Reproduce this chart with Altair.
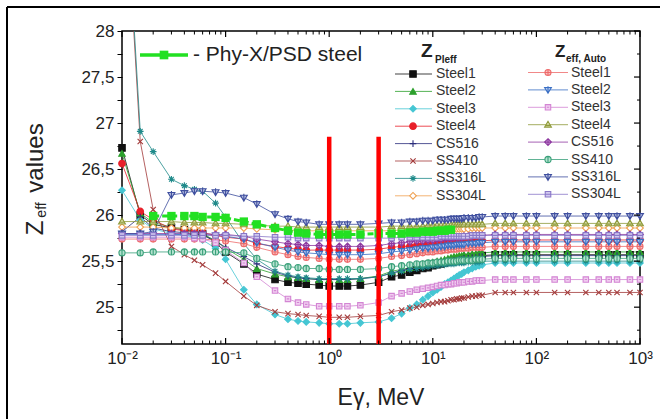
import json
import altair as alt
import pandas as pd

# ---------------- data ----------------
energy = [0.01, 0.015, 0.02, 0.03, 0.04, 0.05, 0.06, 0.08, 0.1, 0.15, 0.2, 0.3, 0.4, 0.5, 0.6, 0.8,
          1, 1.25, 1.5, 2, 3,
          4, 5, 6, 7, 8, 9, 10, 11, 12, 13, 14, 15, 16, 17, 18, 19, 20, 22, 24, 26, 28, 30,
          40, 50, 60, 80, 100, 150, 200, 300, 400, 500, 600, 800, 1000]

steel1_p = [26.73, 26.00, 25.90, 25.86, 25.84, 25.82, 25.80, 25.70, 25.60, 25.47, 25.36, 25.30, 25.27, 25.26, 25.25, 25.24, 25.23, 25.23, 25.23, 25.24, 25.27,
            25.33, 25.35, 25.38, 25.40, 25.42, 25.43, 25.45, 25.46, 25.47, 25.48, 25.49, 25.50, 25.51, 25.51, 25.52, 25.52, 25.53, 25.54, 25.55, 25.55, 25.56, 25.56,
            25.57, 25.57, 25.57, 25.57, 25.57, 25.57, 25.57, 25.57, 25.57, 25.57, 25.57, 25.57, 25.57]
steel2_p = [26.67, 26.02, 25.92, 25.87, 25.85, 25.83, 25.80, 25.72, 25.64, 25.52, 25.42, 25.36, 25.33, 25.32, 25.31, 25.30, 25.30, 25.30, 25.30, 25.31, 25.34,
            25.39, 25.41, 25.43, 25.45, 25.47, 25.48, 25.49, 25.50, 25.51, 25.52, 25.53, 25.54, 25.55, 25.55, 25.56, 25.56, 25.57, 25.57, 25.58, 25.58, 25.59, 25.59,
            25.60, 25.60, 25.60, 25.60, 25.60, 25.60, 25.60, 25.60, 25.60, 25.60, 25.60, 25.60, 25.60]
steel3_p = [26.27, 25.95, 25.85, 25.80, 25.78, 25.76, 25.73, 25.64, 25.52, 25.19, 25.03, 24.92, 24.87, 24.85, 24.84, 24.83, 24.82, 24.82, 24.82, 24.83, 24.84,
            24.88, 24.93, 24.99, 25.03, 25.08, 25.12, 25.16, 25.19, 25.22, 25.25, 25.27, 25.29, 25.31, 25.33, 25.35, 25.36, 25.38, 25.40, 25.42, 25.44, 25.45, 25.46,
            25.48, 25.48, 25.48, 25.48, 25.48, 25.48, 25.48, 25.48, 25.48, 25.48, 25.48, 25.48, 25.48]
steel4_p = [26.56, 26.04, 25.95, 25.85, 25.83, 25.82, 25.81, 25.78, 25.76, 25.74, 25.69, 25.66, 25.64, 25.63, 25.62, 25.62, 25.62, 25.62, 25.62, 25.62, 25.63,
            25.65, 25.66, 25.66, 25.67, 25.67, 25.68, 25.68, 25.68, 25.69, 25.69, 25.69, 25.70, 25.70, 25.70, 25.70, 25.71, 25.71, 25.71, 25.71, 25.71, 25.72, 25.72,
            25.73, 25.73, 25.73, 25.73, 25.73, 25.73, 25.73, 25.73, 25.73, 25.73, 25.73, 25.73, 25.73]
cs516_p = [25.82, 25.98, 25.86, 25.82, 25.81, 25.80, 25.78, 25.72, 25.65, 25.55, 25.47, 25.38, 25.34, 25.32, 25.31, 25.30, 25.30, 25.30, 25.30, 25.31, 25.33,
           25.37, 25.40, 25.42, 25.44, 25.45, 25.46, 25.47, 25.48, 25.49, 25.49, 25.50, 25.50, 25.51, 25.51, 25.52, 25.52, 25.53, 25.53, 25.54, 25.54, 25.55, 25.55,
           25.56, 25.56, 25.56, 25.56, 25.56, 25.56, 25.56, 25.56, 25.56, 25.56, 25.56, 25.56, 25.56]
ss410_p = [30.20, 26.80, 26.06, 25.66, 25.57, 25.51, 25.46, 25.37, 25.28, 25.12, 25.02, 24.95, 24.93, 24.92, 24.91, 24.90, 24.89, 24.89, 24.89, 24.90, 24.91,
           24.95, 24.97, 24.99, 25.00, 25.02, 25.03, 25.04, 25.05, 25.06, 25.06, 25.07, 25.08, 25.08, 25.09, 25.09, 25.10, 25.10, 25.11, 25.12, 25.12, 25.13, 25.13,
           25.16, 25.16, 25.16, 25.16, 25.16, 25.16, 25.16, 25.16, 25.16, 25.16, 25.16, 25.16, 25.16]
ss316l_p = [30.30, 26.91, 26.69, 26.39, 26.32, 26.28, 26.26, 26.13, 25.98, 25.69, 25.52, 25.39, 25.35, 25.33, 25.32, 25.31, 25.31, 25.31, 25.31, 25.31, 25.33,
            25.37, 25.39, 25.41, 25.42, 25.43, 25.44, 25.45, 25.45, 25.46, 25.46, 25.47, 25.47, 25.47, 25.48, 25.48, 25.48, 25.48, 25.49, 25.49, 25.49, 25.49, 25.50,
            25.50, 25.50, 25.50, 25.50, 25.50, 25.50, 25.50, 25.50, 25.50, 25.50, 25.50, 25.50, 25.50]
ss304l_p = [25.87, 25.87, 25.87, 25.86, 25.86, 25.86, 25.86, 25.86, 25.86, 25.86, 25.85, 25.84, 25.84, 25.83, 25.83, 25.83, 25.83, 25.83, 25.83, 25.83, 25.83,
            25.83, 25.84, 25.84, 25.84, 25.84, 25.84, 25.84, 25.84, 25.85, 25.85, 25.85, 25.85, 25.85, 25.85, 25.85, 25.85, 25.85, 25.85, 25.86, 25.86, 25.86, 25.86,
            25.86, 25.86, 25.86, 25.86, 25.86, 25.86, 25.86, 25.86, 25.86, 25.86, 25.86, 25.86, 25.86]

steel1_a = [25.74, 25.74, 25.74, 25.74, 25.74, 25.74, 25.74, 25.73, 25.72, 25.69, 25.65, 25.60, 25.57, 25.55, 25.54, 25.53, 25.52, 25.52, 25.52, 25.52, 25.53,
            25.55, 25.56, 25.57, 25.58, 25.59, 25.60, 25.60, 25.61, 25.61, 25.62, 25.62, 25.63, 25.63, 25.63, 25.64, 25.64, 25.64, 25.64, 25.65, 25.65, 25.65, 25.65,
            25.66, 25.66, 25.66, 25.66, 25.66, 25.66, 25.66, 25.66, 25.66, 25.66, 25.66, 25.66, 25.66]
steel2_a = [25.79, 25.79, 25.79, 25.79, 25.79, 25.79, 25.79, 25.78, 25.77, 25.74, 25.70, 25.65, 25.62, 25.60, 25.59, 25.58, 25.57, 25.57, 25.57, 25.57, 25.58,
            25.60, 25.61, 25.62, 25.63, 25.64, 25.64, 25.65, 25.65, 25.66, 25.66, 25.67, 25.67, 25.67, 25.68, 25.68, 25.68, 25.68, 25.69, 25.69, 25.69, 25.70, 25.70,
            25.71, 25.71, 25.71, 25.71, 25.71, 25.71, 25.71, 25.71, 25.71, 25.71, 25.71, 25.71, 25.71]
steel3_a = [25.76, 25.76, 25.76, 25.76, 25.76, 25.75, 25.74, 25.70, 25.62, 25.48, 25.33, 25.18, 25.09, 25.05, 25.03, 25.01, 25.01, 25.01, 25.01, 25.02, 25.05,
            25.12, 25.15, 25.17, 25.19, 25.20, 25.21, 25.22, 25.23, 25.24, 25.24, 25.25, 25.25, 25.26, 25.26, 25.27, 25.27, 25.27, 25.28, 25.28, 25.29, 25.29, 25.29,
            25.30, 25.30, 25.30, 25.30, 25.30, 25.30, 25.30, 25.30, 25.30, 25.30, 25.30, 25.30, 25.30]
steel4_a = [25.93, 25.93, 25.93, 25.93, 25.92, 25.92, 25.92, 25.91, 25.91, 25.90, 25.89, 25.88, 25.88, 25.87, 25.87, 25.87, 25.87, 25.87, 25.87, 25.87, 25.87,
            25.88, 25.88, 25.88, 25.88, 25.88, 25.89, 25.89, 25.89, 25.89, 25.89, 25.89, 25.89, 25.90, 25.90, 25.90, 25.90, 25.90, 25.90, 25.90, 25.90, 25.90, 25.90,
            25.91, 25.91, 25.91, 25.91, 25.91, 25.91, 25.91, 25.91, 25.91, 25.91, 25.91, 25.91, 25.91]
cs516_a = [25.80, 25.80, 25.80, 25.80, 25.80, 25.80, 25.80, 25.79, 25.79, 25.77, 25.74, 25.71, 25.69, 25.68, 25.67, 25.67, 25.66, 25.66, 25.66, 25.66, 25.67,
           25.69, 25.70, 25.71, 25.72, 25.72, 25.73, 25.73, 25.74, 25.74, 25.75, 25.75, 25.75, 25.76, 25.76, 25.76, 25.76, 25.77, 25.77, 25.77, 25.78, 25.78, 25.78,
           25.79, 25.79, 25.79, 25.79, 25.79, 25.79, 25.79, 25.79, 25.79, 25.79, 25.79, 25.79, 25.79]
ss410_a = [25.59, 25.59, 25.60, 25.60, 25.60, 25.60, 25.60, 25.60, 25.60, 25.59, 25.53, 25.47, 25.44, 25.43, 25.42, 25.42, 25.41, 25.41, 25.41, 25.41, 25.42,
           25.44, 25.45, 25.46, 25.47, 25.47, 25.48, 25.48, 25.49, 25.49, 25.49, 25.50, 25.50, 25.50, 25.50, 25.51, 25.51, 25.51, 25.51, 25.51, 25.52, 25.52, 25.52,
           25.53, 25.53, 25.53, 25.53, 25.53, 25.53, 25.53, 25.53, 25.53, 25.53, 25.53, 25.53, 25.53]
ss316l_a = [25.80, 25.80, 25.82, 26.22, 26.24, 26.26, 26.26, 26.25, 26.24, 26.19, 26.12, 26.01, 25.96, 25.93, 25.92, 25.90, 25.90, 25.90, 25.90, 25.90, 25.91,
            25.92, 25.92, 25.93, 25.93, 25.94, 25.94, 25.94, 25.95, 25.95, 25.95, 25.95, 25.96, 25.96, 25.96, 25.96, 25.96, 25.97, 25.97, 25.97, 25.97, 25.98, 25.98,
            25.99, 25.99, 25.99, 25.99, 25.99, 25.99, 25.99, 25.99, 25.99, 25.99, 25.99, 25.99, 25.99]
ss304l_a = [25.78, 25.78, 25.78, 25.78, 25.78, 25.78, 25.78, 25.78, 25.78, 25.77, 25.77, 25.76, 25.76, 25.75, 25.75, 25.75, 25.75, 25.75, 25.75, 25.75, 25.75,
            25.75, 25.76, 25.76, 25.76, 25.76, 25.76, 25.76, 25.76, 25.77, 25.77, 25.77, 25.77, 25.77, 25.77, 25.77, 25.77, 25.77, 25.77, 25.78, 25.78, 25.78, 25.78,
            25.78, 25.78, 25.78, 25.78, 25.78, 25.78, 25.78, 25.78, 25.78, 25.78, 25.78, 25.78, 25.78]

phyx_energy = [0.02, 0.03, 0.04, 0.05, 0.06, 0.08, 0.1, 0.15, 0.2, 0.3, 0.4, 0.5, 0.6, 0.8, 1, 1.25, 1.5, 2, 3,
               4, 5, 6, 7, 8, 9, 10, 11, 12, 13, 14, 15]
phyx_z = [25.99, 25.99, 25.99, 25.99, 25.98, 25.98, 25.97, 25.93, 25.90, 25.86, 25.83, 25.81, 25.80, 25.79, 25.79, 25.79, 25.79, 25.79, 25.80,
          25.80, 25.80, 25.81, 25.81, 25.82, 25.82, 25.82, 25.83, 25.83, 25.83, 25.84, 25.84]

material_labels = ["Steel1", "Steel2", "Steel3", "Steel4", "CS516", "SS410", "SS316L", "SS304L"]
pleff_values = [steel1_p, steel2_p, steel3_p, steel4_p, cs516_p, ss410_p, ss316l_p, ss304l_p]
auto_values = [steel1_a, steel2_a, steel3_a, steel4_a, cs516_a, ss410_a, ss316l_a, ss304l_a]

pleff_colors = ["#111111", "#2ca02c", "#45c6d3", "#e8202a", "#2b2d7c", "#a33a3a", "#1f8a8a", "#f0a050"]
pleff_fills = ["#111111", "#2ca02c", "#45c6d3", "#e8202a", "transparent", "transparent", "transparent", "#ffffff"]
pleff_shapes = ["square", "triangle-up", "diamond", "circle",
                "M-1,0L1,0M0,-1L0,1",
                "M-0.8,-0.8L0.8,0.8M-0.8,0.8L0.8,-0.8",
                "M-1,0L1,0M0,-1L0,1M-0.7,-0.7L0.7,0.7M-0.7,0.7L0.7,-0.7",
                "diamond"]
auto_colors = ["#ee6a6a", "#3a6fc4", "#d385d3", "#8f9a3a", "#8e3aa0", "#3aa07a", "#3f4f9f", "#8a78c8"]
auto_fills = ["#f8c4c4", "#b4c8ee", "#f0cdf0", "#d6dca8", "#d6b0e0", "#b4e2cf", "#b9c0e2", "#d2caf0"]
auto_shapes = ["M0.9,0A0.9,0.9,0,1,1,-0.9,0A0.9,0.9,0,1,1,0.9,0ZM-0.9,0L0.9,0M0,-0.9L0,0.9",
               "M-1,-0.7L1,-0.7L0,1ZM0,-1.1L0,1",
               "M-0.8,-0.8L0.8,-0.8L0.8,0.8L-0.8,0.8ZM-0.35,0L0.35,0",
               "M-1,0.7L1,0.7L0,-1ZM-0.5,0.2L0.5,0.2",
               "M0,-1L1,0L0,1L-1,0ZM-1,0L1,0M0,-1L0,1",
               "M0.9,0A0.9,0.9,0,1,1,-0.9,0A0.9,0.9,0,1,1,0.9,0ZM0,-0.9L0,0.9",
               "M-1,-0.7L1,-0.7L0,1ZM0,-1.1L0,1",
               "M-0.8,-0.8L0.8,-0.8L0.8,0.8L-0.8,0.8ZM-0.8,0L0.8,0"]

x_major_ticks = [0.01, 0.1, 1, 10, 100, 1000]
x_tick_labels = ["10\u207b\u00b2", "10\u207b\u00b9", "10\u2070", "10\u00b9", "10\u00b2", "10\u00b3"]
x_minor_ticks = [m * 10.0 ** d for d in range(-2, 3) for m in range(2, 10)]
y_major_ticks = [25.0, 25.5, 26.0, 26.5, 27.0, 27.5, 28.0]
y_minor_ticks = [24.75, 25.25, 25.75, 26.25, 26.75, 27.25, 27.75]
red_line_energy = [1, 3]
red_line_top = [26.85, 26.85]

for v in pleff_values + auto_values:
    assert len(v) == len(energy), len(v)

# ---------------- build tables ----------------
keys = ["P:" + m for m in material_labels] + ["A:" + m for m in material_labels]
colors = pleff_colors + auto_colors
fills = pleff_fills + auto_fills
shapes = pleff_shapes + auto_shapes
sizes = [42, 48, 50, 42, 55, 40, 60, 45] + [56, 52, 46, 52, 56, 56, 52, 46]

rows = []
for k, vals in zip(keys, pleff_values + auto_values):
    for e, z in zip(energy, vals):
        rows.append({"series": k, "E": e, "Z": z})
df = pd.DataFrame(rows)
df_phyx = pd.DataFrame({"E": phyx_energy, "Z": phyx_z})

W, H = 518, 313
PADL, PADT = 122, 31
FONT = "Liberation Sans"

x_scale = alt.Scale(type="log", domain=[0.01, 1000], nice=False)
y_scale = alt.Scale(domain=[24.6, 28], nice=False, zero=False)
stroke_scale = alt.Scale(domain=keys, range=colors)
fill_scale = alt.Scale(domain=keys, range=fills)
shape_scale = alt.Scale(domain=keys, range=shapes)
size_scale = alt.Scale(domain=keys, range=sizes)

label_arr = json.dumps(x_tick_labels, ensure_ascii=False).replace('"', "'")
x_axis = alt.Axis(values=x_major_ticks, labelExpr=f"{label_arr}[round(log(datum.value)/LN10)+2]",
                  ticks=False, domain=False, grid=False, labelFontSize=17, labelPadding=6,
                  labelFlush=False, labelColor="#222", labelFont=FONT, title=None)
y_axis = alt.Axis(values=sorted(y_major_ticks + y_minor_ticks),
                  labelExpr="(datum.value*2) % 1 == 0 ? replace(format(datum.value, datum.value % 1 == 0 ? 'd' : '.1f'), '.', ',') : ''",
                  tickSize=5, tickColor="black", tickWidth=1, domain=False, grid=False,
                  labelFontSize=17, labelPadding=3, labelColor="#222", labelFont=FONT,
                  labelOverlap=False, title=None)

X = alt.X("E:Q", scale=x_scale, axis=x_axis)
Y = alt.Y("Z:Q", scale=y_scale, axis=y_axis)

lines = alt.Chart(df).mark_line(strokeWidth=1, opacity=0.8, clip=True).encode(
    x=X, y=Y, stroke=alt.Stroke("series:N", scale=stroke_scale, legend=None), detail="series:N")
points = alt.Chart(df).transform_filter(alt.datum.Z <= 28).mark_point(
    filled=False, strokeWidth=1.1, opacity=1).encode(
    x=X, y=Y,
    stroke=alt.Stroke("series:N", scale=stroke_scale, legend=None),
    fill=alt.Fill("series:N", scale=fill_scale, legend=None),
    shape=alt.Shape("series:N", scale=shape_scale, legend=None),
    size=alt.Size("series:N", scale=size_scale, legend=None))

GREEN = "#22e022"
phyx_line = alt.Chart(df_phyx).mark_line(color=GREEN, strokeWidth=3, strokeDash=[6, 3]).encode(x=X, y=Y)
phyx_pts = alt.Chart(df_phyx).mark_square(color=GREEN, size=70, opacity=1).encode(x=X, y=Y)

df_red = pd.DataFrame({"E": red_line_energy, "Z": red_line_top})
red = alt.Chart(df_red).mark_rule(color="#ff0000", strokeWidth=4.5).encode(x=X, y=Y, y2=alt.value(H))

# ---- mirror / inward ticks ----
df_xmaj = pd.DataFrame({"E": x_major_ticks})
df_xmin = pd.DataFrame({"E": x_minor_ticks})
df_ymaj = pd.DataFrame({"Z": y_major_ticks})
df_ymin = pd.DataFrame({"Z": y_minor_ticks})
tick_layers = [
    alt.Chart(df_xmaj).mark_rule(color="black", strokeWidth=1.2).encode(x=X, y=alt.value(H), y2=alt.value(H - 6)),
    alt.Chart(df_xmin).mark_rule(color="black", strokeWidth=1).encode(x=X, y=alt.value(H), y2=alt.value(H - 3.5)),
    alt.Chart(df_xmaj).mark_rule(color="black", strokeWidth=1.2).encode(x=X, y=alt.value(0), y2=alt.value(6)),
    alt.Chart(df_xmin).mark_rule(color="black", strokeWidth=1).encode(x=X, y=alt.value(0), y2=alt.value(3.5)),
    alt.Chart(df_ymaj).mark_rule(color="black", strokeWidth=1.2).encode(y=Y, x=alt.value(W), x2=alt.value(W - 6)),
    alt.Chart(df_ymin).mark_rule(color="black", strokeWidth=1).encode(y=Y, x=alt.value(W), x2=alt.value(W - 3)),
]

# ---- legend (pixel layout) ----
leg_rows = []
for i, m in enumerate(material_labels):
    ly = 74 + 17.4 * i - PADT
    leg_rows.append({"series": "P:" + m, "label": m, "lx1": 395 - PADL, "lx2": 432 - PADL,
                     "mx": 413 - PADL, "tx": 436 - PADL, "ly": ly})
    leg_rows.append({"series": "A:" + m, "label": m, "lx1": 528 - PADL, "lx2": 568 - PADL,
                     "mx": 548 - PADL, "tx": 571 - PADL, "ly": ly - 1.5})
df_leg = pd.DataFrame(leg_rows)
leg_line = alt.Chart(df_leg).mark_rule(strokeWidth=1, opacity=0.8).encode(
    x=alt.X("lx1:Q", scale=None), x2="lx2:Q", y=alt.Y("ly:Q", scale=None),
    stroke=alt.Stroke("series:N", scale=stroke_scale, legend=None))
leg_pts = alt.Chart(df_leg).mark_point(filled=False, strokeWidth=1.1, opacity=1).encode(
    x=alt.X("mx:Q", scale=None), y=alt.Y("ly:Q", scale=None),
    stroke=alt.Stroke("series:N", scale=stroke_scale, legend=None),
    fill=alt.Fill("series:N", scale=fill_scale, legend=None),
    shape=alt.Shape("series:N", scale=shape_scale, legend=None),
    size=alt.Size("series:N", scale=size_scale, legend=None))
leg_txt = alt.Chart(df_leg).mark_text(align="left", baseline="middle", fontSize=14, font=FONT, color="#333").encode(
    x=alt.X("tx:Q", scale=None), y=alt.Y("ly:Q", scale=None), text="label:N")

df_phx_leg = pd.DataFrame({"x1": [18], "x2": [66], "mx": [42], "y": [24]})
phx_leg_line = alt.Chart(df_phx_leg).mark_rule(color=GREEN, strokeWidth=3.5).encode(
    x=alt.X("x1:Q", scale=None), x2="x2:Q", y=alt.Y("y:Q", scale=None))
phx_leg_pt = alt.Chart(df_phx_leg).mark_square(color=GREEN, size=75, opacity=1).encode(
    x=alt.X("mx:Q", scale=None), y=alt.Y("y:Q", scale=None))

# ---- text annotations ----
df_txt_c = pd.DataFrame([
    {"px": -86, "py": 197, "t": "Z", "fs": 24, "ang": 270},
    {"px": -80, "py": 179, "t": "eff", "fs": 14, "ang": 270},
    {"px": -86, "py": 127, "t": "values", "fs": 24, "ang": 270},
    {"px": W / 2, "py": 367, "t": "E\u03b3, MeV", "fs": 23, "ang": 0},
])
df_txt_l = pd.DataFrame([
    {"px": 71, "py": 24, "t": "- Phy-X/PSD steel", "fs": 21},
])
df_txt_b = pd.DataFrame([
    {"px": 299, "py": 20, "t": "Z", "fs": 19},
    {"px": 313, "py": 29, "t": "Pleff", "fs": 10},
    {"px": 433, "py": 21, "t": "Z", "fs": 17},
    {"px": 444, "py": 27.5, "t": "eff, Auto", "fs": 10},
])
txt_c = alt.Chart(df_txt_c).mark_text(align="center", baseline="middle", font=FONT, color="#222").encode(
    x=alt.X("px:Q", scale=None), y=alt.Y("py:Q", scale=None), text="t:N",
    size=alt.Size("fs:Q", scale=None), angle=alt.Angle("ang:Q", scale=None))
txt_l = alt.Chart(df_txt_l).mark_text(align="left", baseline="middle", font=FONT, color="#222").encode(
    x=alt.X("px:Q", scale=None), y=alt.Y("py:Q", scale=None), text="t:N",
    size=alt.Size("fs:Q", scale=None))
txt_b = alt.Chart(df_txt_b).mark_text(align="left", baseline="middle", font=FONT, fontWeight="bold", color="#222").encode(
    x=alt.X("px:Q", scale=None), y=alt.Y("py:Q", scale=None), text="t:N",
    size=alt.Size("fs:Q", scale=None))

# ---- outer frame (screenshot border) ----
df_frame = pd.DataFrame({"a": [0]})
frame_left = alt.Chart(df_frame).mark_rule(color="black", strokeWidth=2).encode(
    x=alt.value(7 - PADL), y=alt.value(7 - PADT), y2=alt.value(419 - PADT + 5))
frame_top = alt.Chart(df_frame).mark_rule(color="black", strokeWidth=2).encode(
    x=alt.value(7 - PADL), x2=alt.value(660 - PADL + 5), y=alt.value(7 - PADT))

chart = alt.layer(
    lines, points, phyx_line, phyx_pts, red, *tick_layers,
    leg_line, leg_pts, leg_txt, phx_leg_line, phx_leg_pt,
    txt_c, txt_l, txt_b, frame_left, frame_top,
).properties(
    width=W, height=H,
    padding={"left": PADL, "top": PADT, "right": 660 - PADL - W, "bottom": 419 - PADT - H},
    autosize=alt.AutoSizeParams(type="none"),
    background="white",
).configure_view(stroke="black", strokeWidth=1.5)

chart.save("out.html", embed_options={"renderer": "svg", "actions": False})
